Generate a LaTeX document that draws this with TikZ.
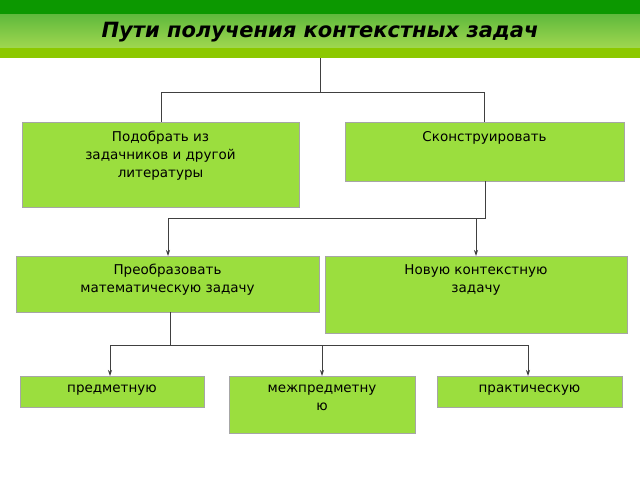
\documentclass[tikz,border=0pt]{standalone}
\usepackage{fontspec}
\setmainfont{DejaVu Sans}
\usetikzlibrary{arrows.meta}
\definecolor{boxg}{RGB}{155,222,62}
\definecolor{hdark}{RGB}{12,152,0}
\definecolor{htop}{RGB}{95,185,60}
\definecolor{hbot}{RGB}{160,215,80}
\definecolor{hlow}{RGB}{140,200,0}
\tikzset{
 box/.style={draw=gray!70,fill=boxg,line width=0.6pt},
 txt/.style={anchor=north,align=center,font=\fontsize{13.5}{18}\selectfont,inner sep=0pt},
 conn/.style={draw=black!75,line width=0.8pt},
 arr/.style={conn,-{Stealth[length=6pt,width=4pt]}}
}
\begin{document}
\begin{tikzpicture}[x=1pt,y=-1pt]
\useasboundingbox (0,0) rectangle (640,480);
\fill[white] (0,0) rectangle (640,480);
\fill[hdark] (0,0) rectangle (640,14);
\shade[top color=htop,bottom color=hbot] (0,14) rectangle (640,48);
\fill[hlow] (0,48) rectangle (640,58);
\node[font=\fontsize{21}{24}\selectfont\bfseries\itshape] (title) at (320,32) {Пути получения контекстных задач};
\coordinate (hb) at (320,58);
\draw[box] (22,122) rectangle (299,207); \node[txt] (b1) at (160.5,131) {Подобрать из\\задачников и другой\\литературы};
\draw[box] (345,122) rectangle (624,181); \node[txt] (b2) at (484.5,131) {Сконструировать};
\draw[box] (16,256) rectangle (319,312); \node[txt] (b3) at (167.5,264) {Преобразовать\\математическую задачу};
\draw[box] (325,256) rectangle (627,333); \node[txt] (b4) at (476,264) {Новую контекстную\\задачу};
\draw[box] (20,376) rectangle (204,407); \node[txt] (b5) at (112,385) {предметную};
\draw[box] (229,376) rectangle (415,433); \node[txt] (b6) at (322,385) {межпредметну\\ю};
\draw[box] (437,376) rectangle (622,407); \node[txt] (b7) at (529.5,385) {практическую};
\coordinate (t1) at (161,122); \coordinate (t2) at (484,122);
\draw[conn] (hb) -- (320,92) -| (t1);
\draw[conn] (320,92) -| (t2);
\coordinate (s2) at (485,181);
\draw[conn] (s2) -- (485,218) -- (168,218);
\draw[arr] (168,218) -- (168,256);
\draw[arr] (476,218) -- (476,256);
\coordinate (s3) at (170,312);
\draw[conn] (s3) -- (170,345);
\draw[conn] (110,345) -- (528,345);
\draw[arr] (110,345) -- (110,376);
\draw[arr] (322,345) -- (322,376);
\draw[arr] (528,345) -- (528,376);
\end{tikzpicture}
\end{document}
